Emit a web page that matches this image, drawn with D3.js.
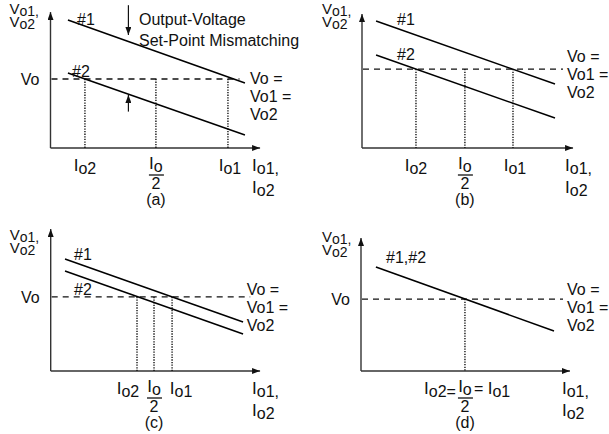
<!DOCTYPE html>
<html>
<head>
<meta charset="utf-8">
<script src="https://cdn.jsdelivr.net/npm/d3@7"></script>
<style>
  body { margin: 0; background: #fff; }
  text { font-family: Arial, "Liberation Sans", sans-serif; fill: #111; }
</style>
</head>
<body>
<script>
// values, in a 0..10 unit space per panel
const panelIds = ['a', 'b', 'c', 'd'];
const line1Start = [[0.83, 9.14], [0.67, 9.07], [0.68, 8.0], [0.71, 7.43]];
const line1End = [[9.26, 4.64], [9.19, 4.57], [9.16, 3.5], [9.19, 2.86]];
const line2Start = [[0.83, 5.36], [0.67, 6.64], [0.68, 7.14], null];
const line2End = [[9.26, 0.93], [9.19, 2.14], [9.16, 2.64], null];
const voLevel = [4.93, 5.64, 5.29, 5.14];
const io2 = [1.64, 2.57, 4.11, 4.95];
const ioHalf = [5.02, 4.90, 4.92, 4.95];
const io1 = [8.45, 7.19, 5.78, 4.95];
const dashEnd = [9.0, 9.57, 9.5, 9.62];
const yAxisTop = [9.71, 9.57, 10.14, 9.5];
const xAxisEnd = [9.98, 10.05, 9.97, 9.95];
const curveLabels = [['#1', '#2'], ['#1', '#2'], ['#1', '#2'], ['#1,#2']];
const rightLabels = [['Vo =', 'Vo1 ='], ['Vo2']];
const mismatchArrows = [[3.71, 10.2, 8.07], [3.71, 2.6, 3.79]]; // x, from, to
const noteLines = ['Output-Voltage', 'Set-Point Mismatching'];

// layout (pixels)
const origins = [[50.5, 148], [362, 148], [50.7, 371], [361, 371]];
const yLabelPos = [[-41, -134], [-40, -134], [-41, -131], [-39, -129]];
const curveLabelPos = [[[77, 25], [72, 77]], [[397, 25], [397, 60]], [[74, 260], [74, 295]], [[386, 263]]];
const rightLabelPos = [[199.5, -64], [205, -86], [196, -76], [206, -76]];
const showVoLeft = [true, false, true, true];
const tickShift = [[0, 0], [0, 0], [-9, 7], [0, 0]];

const W = 609, H = 434;
const svg = d3.select('body').append('svg').attr('width', W).attr('height', H);

svg.append('defs').append('marker')
  .attr('id', 'arr')
  .attr('viewBox', '0 0 8 6')
  .attr('refX', 8).attr('refY', 3)
  .attr('markerWidth', 8).attr('markerHeight', 6)
  .attr('markerUnits', 'userSpaceOnUse')
  .attr('orient', 'auto')
  .append('path').attr('d', 'M0,0 L8,3 L0,6 Z').attr('fill', '#111');

const x = d3.scaleLinear().domain([0, 10]).range([0, 210]);
const y = d3.scaleLinear().domain([0, 10]).range([0, -140]);

// I with lowered subscript
function subLabel(g, px, py, sub, anchor) {
  const t = g.append('text').attr('x', px).attr('y', py)
    .attr('text-anchor', anchor || 'middle').style('font-size', '17px');
  t.append('tspan').text('I');
  t.append('tspan').attr('dy', 3).style('font-size', '16px').text(sub);
  return t;
}

function vLabel(g, px, py, sub, anchor) {
  const t = g.append('text').attr('x', px).attr('y', py)
    .attr('text-anchor', anchor || 'start').style('font-size', '15px');
  t.append('tspan').text('V');
  t.append('tspan').attr('dy', 2).style('font-size', '14px').text(sub);
  return t;
}

function fraction(g, px, base) {
  const t = g.append('text').attr('x', px).attr('y', base + 21)
    .attr('text-anchor', 'middle').style('font-size', '17px');
  t.append('tspan').text('I');
  t.append('tspan').attr('dy', 3).style('font-size', '16px').text('o');
  g.append('line').attr('x1', px - 7).attr('x2', px + 8)
    .attr('y1', base + 27).attr('y2', base + 27)
    .attr('stroke', '#111').attr('stroke-width', 1.3);
  g.append('text').attr('x', px).attr('y', base + 41)
    .attr('text-anchor', 'middle').style('font-size', '16px').text('2');
}

panelIds.forEach((id, i) => {
  const [ox, oy] = origins[i];
  const g = svg.append('g').attr('transform', `translate(${ox},${oy})`);

  // axes
  g.append('line').attr('x1', 0).attr('y1', 0).attr('x2', 0).attr('y2', y(yAxisTop[i]))
    .attr('stroke', '#333').attr('stroke-width', 1.4).attr('marker-end', 'url(#arr)');
  g.append('line').attr('x1', 0).attr('y1', 0).attr('x2', x(xAxisEnd[i])).attr('y2', 0)
    .attr('stroke', '#333').attr('stroke-width', 1.4).attr('marker-end', 'url(#arr)');

  // dashed Vo
  g.append('line').attr('x1', 1).attr('x2', x(dashEnd[i]))
    .attr('y1', y(voLevel[i])).attr('y2', y(voLevel[i]))
    .attr('stroke', '#111').attr('stroke-width', 1.3).attr('stroke-dasharray', '6,5');

  // dotted verticals
  const drops = i === 3 ? [io1[i]] : [io2[i], ioHalf[i], io1[i]];
  g.selectAll('line.drop').data(drops).enter().append('line')
    .attr('class', 'drop')
    .attr('x1', d => x(d)).attr('x2', d => x(d))
    .attr('y1', y(voLevel[i])).attr('y2', 0)
    .attr('stroke', '#111').attr('stroke-width', 1.4).attr('stroke-dasharray', '1.3,1.3');

  // droop lines
  const segs = [[line1Start[i], line1End[i]]];
  if (line2Start[i]) segs.push([line2Start[i], line2End[i]]);
  g.selectAll('line.droop').data(segs).enter().append('line')
    .attr('class', 'droop')
    .attr('x1', d => x(d[0][0])).attr('y1', d => y(d[0][1]))
    .attr('x2', d => x(d[1][0])).attr('y2', d => y(d[1][1]))
    .attr('stroke', '#000').attr('stroke-width', 1.5);

  // y axis label
  const [ylx, yly] = yLabelPos[i];
  vLabel(g, ylx, yly, 'o1,');
  vLabel(g, ylx, yly + 13, 'o2');

  if (showVoLeft[i]) {
    g.append('text').attr('x', -11).attr('y', y(voLevel[i]) + 6)
      .attr('text-anchor', 'end').style('font-size', '16px').text('Vo');
  }

  // curve labels
  curveLabels[i].forEach((s, k) => {
    const [lx, ly] = curveLabelPos[i][k];
    g.append('text').attr('x', lx - ox).attr('y', ly - oy)
      .style('font-size', '16px').text(s);
  });

  // right labels
  const [rx, ry] = rightLabelPos[i];
  const rl = rightLabels[0].concat(rightLabels[1]);
  rl.forEach((s, k) => {
    g.append('text').attr('x', rx).attr('y', ry + k * 18)
      .style('font-size', '16px').text(s);
  });

  // x ticks
  if (i < 3) {
    subLabel(g, x(io2[i]) + tickShift[i][0], 23, 'o2');
    fraction(g, x(ioHalf[i]), 0);
    subLabel(g, x(io1[i]) + 2 + tickShift[i][1], 23, 'o1');
  } else {
    subLabel(g, x(ioHalf[i]) - 9, 23, 'o2=', 'end');
    fraction(g, x(ioHalf[i]), 0);
    const t = g.append('text').attr('x', x(ioHalf[i]) + 9).attr('y', 23).style('font-size', '16px');
    t.append('tspan').text('= ');
    t.append('tspan').style('font-size', '17px').text('I');
    t.append('tspan').attr('dy', 3).text('o1');
  }

  // x axis label
  const axLx = x(xAxisEnd[i]) - 8;
  subLabel(g, axLx, 23, 'o1,', 'start');
  subLabel(g, axLx, 45, 'o2', 'start');

  // caption
  g.append('text').attr('x', x(ioHalf[i])).attr('y', 57)
    .attr('text-anchor', 'middle').style('font-size', '16px').text(`(${id})`);

  // mismatch note in panel a
  if (i === 0) {
    mismatchArrows.forEach(a => {
      g.append('line').attr('x1', x(a[0])).attr('x2', x(a[0]))
        .attr('y1', y(a[1])).attr('y2', y(a[2]))
        .attr('stroke', '#111').attr('stroke-width', 1.2).attr('marker-end', 'url(#arr)');
    });
    noteLines.forEach((s, k) => {
      g.append('text').attr('x', 139 - ox).attr('y', 25 - oy + k * 21)
        .style('font-size', '16px').text(s);
    });
  }
});
</script>
</body>
</html>
